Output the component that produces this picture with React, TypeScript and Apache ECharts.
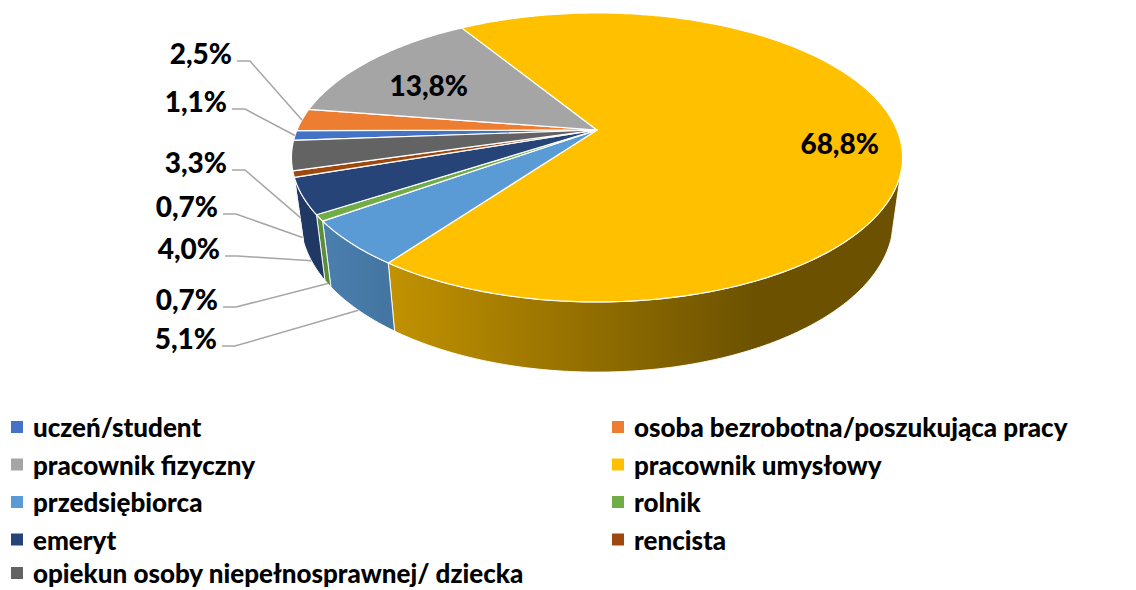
import React, { useEffect, useRef } from "react";
import * as echarts from "echarts";

// ---- data ----
const categories = [
  "uczeń/student",
  "osoba bezrobotna/poszukująca pracy",
  "pracownik fizyczny",
  "pracownik umysłowy",
  "przedsiębiorca",
  "rolnik",
  "emeryt",
  "rencista",
  "opiekun osoby niepełnosprawnej/ dziecka",
];
const values = [1.1, 2.5, 13.8, 68.8, 5.1, 0.7, 4.0, 0.7, 3.3];
const colors = ["#4472C4", "#ED7D31", "#A5A5A5", "#FFC000", "#5B9BD5", "#70AD47", "#264478", "#9E480E", "#636363"];
const legendLeftNames = [categories[0], categories[2], categories[4], categories[6]];
const legendLastNames = [categories[8]];
const legendRightNames = [categories[1], categories[3], categories[5], categories[7]];

// ---- layout (3D pie projection & label placement) ----
const START_ANGLE = 184.24; // math degrees, slices go clockwise
const CX = 597, CY = 130, RX = 300, RY = 139.3, PERSP = 0.19, DEPTH = 61, BOTTOM_SCALE = 0.97;
const WALL_LIMIT = 17.46; // walls visible where sin < -0.3
const insideLabels: Record<number, [number, number]> = { 2: [0.69, 3.6], 3: [0.8, -4.4] };
const outsideLabels: Record<number, [number, number]> = {
  1: [232, 53],
  0: [227, 101],
  8: [227, 162],
  7: [218, 206],
  6: [220, 248],
  5: [218, 299],
  4: [217, 338],
};

const FONT = "Lato";

function topPt(deg: number, r = 1): number[] {
  const t = (deg * Math.PI) / 180;
  const X = r * Math.cos(t);
  const Y = -r * Math.sin(t);
  const w = 1 - PERSP * Y;
  return [CX + (RX * X) / w, CY + (RY * Y) / w];
}
function botPt(deg: number): number[] {
  const t = (deg * Math.PI) / 180;
  const X = Math.cos(t);
  const Y = -Math.sin(t);
  const w = 1 - PERSP * Y;
  return [CX + (RX * BOTTOM_SCALE * X) / w, CY + (RY * BOTTOM_SCALE * Y + DEPTH) / w];
}
function arc(a: number, b: number, fn: (d: number) => number[]): number[][] {
  const n = Math.max(2, Math.ceil(Math.abs(b - a) / 1));
  const pts: number[][] = [];
  for (let k = 0; k <= n; k++) pts.push(fn(a + ((b - a) * k) / n));
  return pts;
}
function shade(hex: string, f: number): string {
  const n = parseInt(hex.slice(1), 16);
  const r = Math.round(((n >> 16) & 255) * f);
  const g = Math.round(((n >> 8) & 255) * f);
  const b = Math.round((n & 255) * f);
  return `rgb(${r},${g},${b})`;
}
function fmt(v: number): string {
  return v.toFixed(1).replace(".", ",") + "%";
}

export default function App() {
  const ref = useRef<HTMLDivElement>(null);
  useEffect(() => {
    document.body.style.margin = "0";
    if (!ref.current) return;
    const chart = echarts.init(ref.current, undefined, { renderer: "svg" });
    const total = values.reduce((s, v) => s + v, 0);

    const renderItem = (params: any, api: any) => {
      const i = params.dataIndex;
      const v = api.value(0);
      let before = 0;
      for (let k = 0; k < i; k++) before += values[k];
      const s = START_ANGLE - (before / total) * 360;
      const e = s - (v / total) * 360;
      const color = colors[i];
      const children: any[] = [];

      // walls (front only)
      for (let k = -1; k <= 1; k++) {
        const wlo = -180 + WALL_LIMIT + 360 * k;
        const whi = -WALL_LIMIT + 360 * k;
        const a = Math.max(e, wlo);
        const b = Math.min(s, whi);
        if (a < b) {
          const pts = arc(a, b, topPt).concat(arc(b, a, botPt));
          children.push({
            type: "polygon",
            z2: 1,
            shape: { points: pts },
            style: {
              fill: new echarts.graphic.LinearGradient(
                300, 0, 760, 0,
                [
                  { offset: 0, color: shade(color, 0.84) },
                  { offset: 1, color: shade(color, 0.42) },
                ],
                true
              ),
              stroke: "rgba(255,255,255,0.9)",
              lineWidth: 1,
            },
          });
        }
      }

      // top face
      const topPts = [[CX, CY]].concat(arc(s, e, (d) => topPt(d)));
      children.push({
        type: "polygon",
        z2: 5,
        shape: { points: topPts },
        style: { fill: color, stroke: "#ffffff", lineWidth: 1.2, lineJoin: "round" },
      });

      // labels
      const mid = (s + e) / 2;
      const text = fmt(v);
      const labelStyle = {
        text,
        fill: "#000",
        fontFamily: FONT,
        fontWeight: 900,
        fontSize: 28,
        verticalAlign: "middle",
      };
      if (insideLabels[i]) {
        const [r, dth] = insideLabels[i];
        const p = topPt(mid + dth, r);
        children.push({
          type: "text",
          z2: 10,
          style: { ...labelStyle, x: p[0], y: p[1], align: "center" },
        });
      } else if (outsideLabels[i]) {
        const [rx, cy] = outsideLabels[i];
        const Ymid = -Math.sin((mid * Math.PI) / 180);
        const anchor = Ymid > 0.1 ? botPt(mid) : topPt(mid);
        const ly = cy + 8;
        children.push({
          type: "polyline",
          z2: 8,
          shape: { points: [[rx + 5, ly], [rx + 18, ly], anchor] },
          style: { stroke: "#A6A6A6", lineWidth: 1.5, fill: null },
        });
        children.push({
          type: "text",
          z2: 10,
          style: { ...labelStyle, x: rx, y: cy, align: "right" },
        });
      }
      return { type: "group", children };
    };

    const legendText = {
      fontFamily: FONT,
      fontWeight: 900,
      fontSize: 26,
      color: "#000",
      lineHeight: 30,
      padding: [0, 0, 0, 5],
    };
    const legendBase = {
      orient: "vertical",
      padding: 0,
      itemWidth: 12,
      itemHeight: 12,
      itemGap: 7.5,
      icon: "rect",
      textStyle: legendText,
    };

    chart.setOption({
      animation: false,
      color: colors,
      legend: [
        { ...legendBase, data: legendLeftNames, left: 11, top: 412 },
        {
          ...legendBase,
          data: legendLastNames,
          left: 11,
          top: 560,
          textStyle: { ...legendText, lineHeight: 26 },
        },
        { ...legendBase, data: legendRightNames, left: 612, top: 412 },
      ],
      series: [
        {
          type: "custom",
          coordinateSystem: "none",
          renderItem,
          silent: true,
          data: values.map((v, i) => ({ name: categories[i], value: v })),
        },
        {
          type: "pie",
          radius: [0, 0],
          center: [-200, -200],
          silent: true,
          label: { show: false },
          labelLine: { show: false },
          data: values.map((v, i) => ({ name: categories[i], value: v })),
        },
      ],
    });
    return () => chart.dispose();
  }, []);
  return <div ref={ref} style={{ width: 1136, height: 590 }} />;
}
